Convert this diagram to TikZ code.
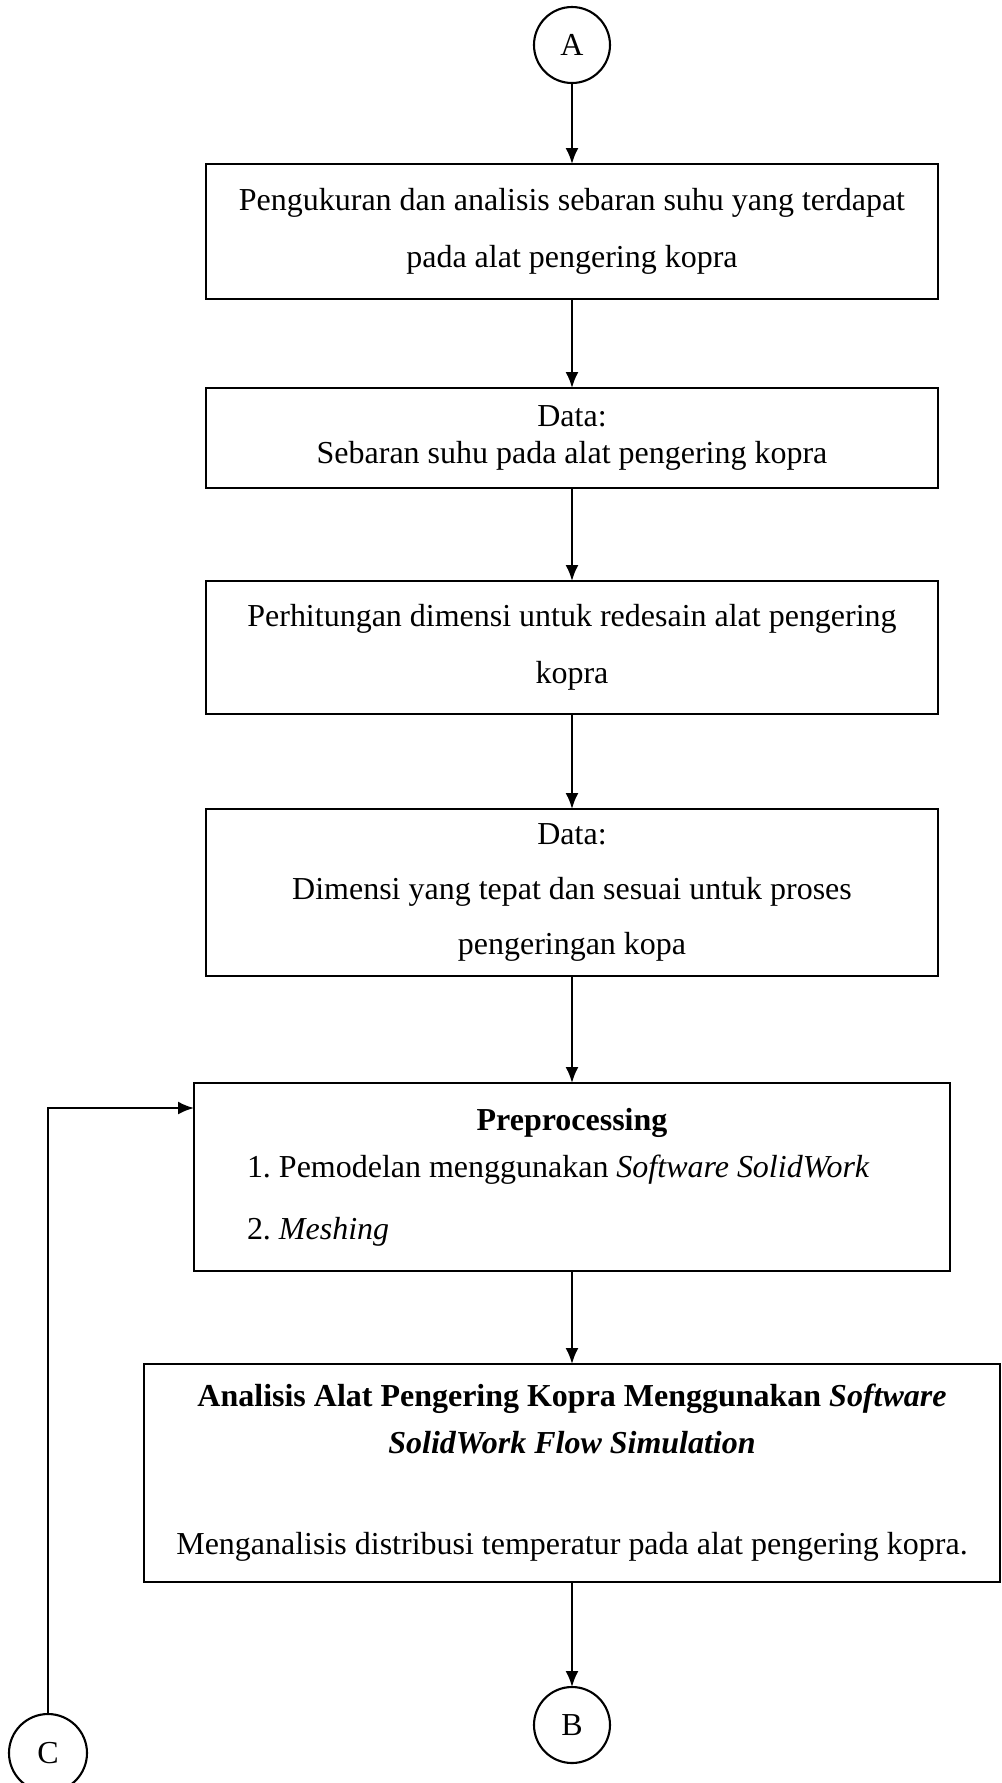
\documentclass[tikz,border=0pt]{standalone}
\usepackage{fontspec}
\setmainfont{Liberation Serif}
\usetikzlibrary{positioning,arrows.meta}
\frenchspacing

\begin{document}
\begin{tikzpicture}[->,>={Latex[length=0.16cm,width=0.13cm]},line width=0.6pt,
	font=\fontsize{9.1}{16.2}\selectfont,
	box/.style={draw,rectangle,align=center,minimum width=7.32cm,inner sep=0pt,outer sep=0pt},
	conn/.style={draw,circle,minimum size=0.76cm,inner sep=0pt,outer sep=0pt}]

\useasboundingbox (0,0) rectangle (10.02,-17.83);
\clip (0,0) rectangle (10.02,-17.83);

\node[conn](A) at (5.72,-0.45){A};
\node[box,minimum height=1.35cm](ukur)[below=0.81cm of A]{Pengukuran dan analisis sebaran suhu yang terdapat\\pada alat pengering kopra};
\node[box,minimum height=1.00cm,font=\fontsize{9.1}{10.3}\selectfont](data1)[below=0.89cm of ukur]{Data:\\Sebaran suhu pada alat pengering kopra};
\node[box,minimum height=1.33cm](hitung)[below=0.93cm of data1]{Perhitungan dimensi untuk redesain alat pengering\\kopra};
\node[box,minimum height=1.67cm,font=\fontsize{9.1}{15.6}\selectfont](data2)[below=0.95cm of hitung]{Data:\\Dimensi yang tepat dan sesuai untuk proses\\pengeringan kopa};
\node[box,align=left,minimum width=7.56cm,minimum height=1.88cm,font=\fontsize{9.1}{13.3}\selectfont](prep)[below=1.07cm of data2]{\makebox[6.5cm]{\textbf{Preprocessing}}\\1. Pemodelan menggunakan \textit{Software SolidWork}\\[4.3pt]2. \textit{Meshing}};
\node[box,minimum width=8.56cm,minimum height=2.18cm,font=\fontsize{9.1}{13.3}\selectfont](anls)[below=0.93cm of prep]{\textbf{Analisis Alat Pengering Kopra Menggunakan \textit{Software}}\\\textbf{\textit{SolidWork Flow Simulation}}\\[15.5pt]Menganalisis distribusi temperatur pada alat pengering kopra.};
\node[conn](B)[below=1.05cm of anls]{B};
\node[conn,minimum size=0.78cm](C) at (0.48,-17.53){C};

\path(A)edge(ukur)
	(ukur)edge(data1)
	(data1)edge(hitung)
	(hitung)edge(data2)
	(data2)edge(prep)
	(prep)edge(anls)
	(anls)edge(B);
\draw(C)|-([yshift=-0.25cm]prep.north west);

\end{tikzpicture}
\end{document}
